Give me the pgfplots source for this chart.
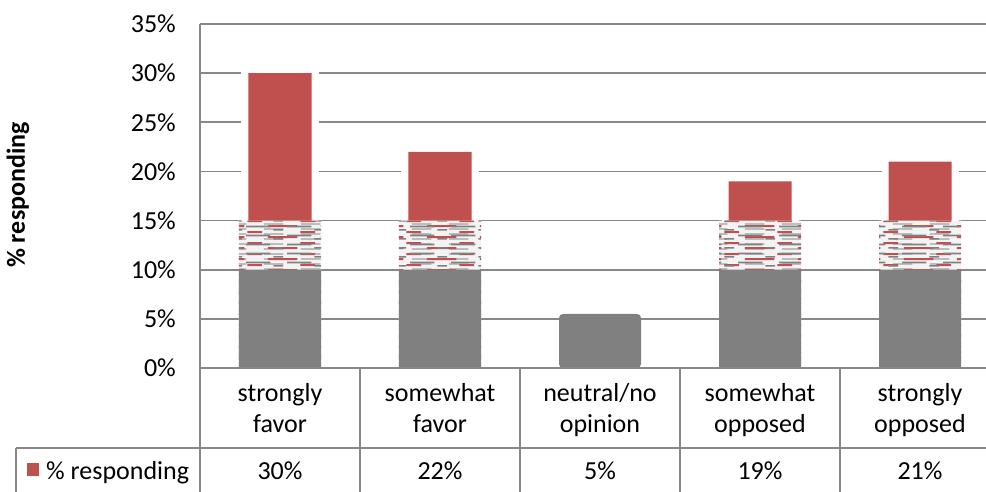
\documentclass[border=0pt]{standalone}
\usepackage{fontspec}
\setmainfont{Carlito}
\usepackage{pgfplots}
\usepackage{pgfplotstable}
\pgfplotsset{compat=1.18}
\usetikzlibrary{patterns}

\definecolor{barred}{HTML}{C0504D}
\definecolor{bargray}{HTML}{808080}
\definecolor{gridgray}{HTML}{888888}
\definecolor{bandbg}{HTML}{F3F3F3}
\definecolor{streaklight}{HTML}{BDBDBD}

\newcommand\chartfont{\fontsize{26}{31}\selectfont}

% streaky texture of the 10-15% band
\pgfdeclarepatternformonly{redstreaks}{\pgfpoint{0pt}{0pt}}{\pgfpoint{53pt}{11pt}}{\pgfpoint{53pt}{11pt}}{%
  \pgfpathrectangle{\pgfpoint{3pt}{1pt}}{\pgfpoint{30pt}{2pt}}
  \pgfpathrectangle{\pgfpoint{36pt}{6.5pt}}{\pgfpoint{15pt}{2pt}}\pgfusepath{fill}}
\pgfdeclarepatternformonly{graystreaks}{\pgfpoint{0pt}{0pt}}{\pgfpoint{41pt}{9pt}}{\pgfpoint{41pt}{9pt}}{%
  \pgfpathrectangle{\pgfpoint{0pt}{4pt}}{\pgfpoint{25pt}{2pt}}
  \pgfpathrectangle{\pgfpoint{28pt}{0.5pt}}{\pgfpoint{10pt}{1.5pt}}\pgfusepath{fill}}
\pgfdeclarepatternformonly{lightstreaks}{\pgfpoint{0pt}{0pt}}{\pgfpoint{37pt}{5pt}}{\pgfpoint{37pt}{5pt}}{%
  \pgfpathrectangle{\pgfpoint{5pt}{2.5pt}}{\pgfpoint{20pt}{2pt}}\pgfusepath{fill}}

% x: category index, pct: % responding
\pgfplotstableread{
x pct
0 30
1 22
3 19
4 21
}\toppart
\pgfplotstableread{
x lo
0 10
1 10
3 10
4 10
}\basepart
\pgfplotstableread{
x mid
0 15
1 15
3 15
4 15
}\bandpart
\pgfplotstableread{
x pct
2 5.5
}\neutralpart

\begin{document}
\begin{tikzpicture}[x=1pt,y=1pt]
\useasboundingbox (0,0) rectangle (986,491);
\begin{axis}[
    at={(200pt,123pt)}, anchor=south west,
    scale only axis, width=800pt, height=344pt,
    xmin=-0.5, xmax=4.5, ymin=0, ymax=35,
    ybar, bar shift=0pt,
    axis line style={draw=none},
    major tick length=0pt,
    xtick={0,...,4},
    xticklabels={strongly\\favor, somewhat\\favor, neutral/no\\opinion, somewhat\\opposed, strongly\\opposed},
    ytick={0,5,...,35},
    yticklabel={\pgfmathprintnumber{\tick}\%},
    /pgf/number format/assume math mode=true,
    ymajorgrids,
    grid style={gridgray, line width=1.6pt},
    tick label style={font=\chartfont},
    yticklabel style={anchor=east, inner sep=0pt, xshift=-24pt},
    xticklabel style={align=center, inner sep=0pt, yshift=-15pt},
    ylabel={\% responding},
    ylabel style={at={(rel axis cs:-0.2275,0.503)}, anchor=center, font=\chartfont\bfseries},
    clip=false,
]
\addplot[fill=barred, draw=none, bar width=63pt,
    preaction={draw=white, line width=14pt}] table[x=x, y=pct]{\toppart};
\addplot[fill=bandbg, draw=none, bar width=82pt,
    postaction={pattern=lightstreaks, pattern color=streaklight},
    postaction={pattern=redstreaks, pattern color=barred},
    postaction={pattern=graystreaks, pattern color=bargray}] table[x=x, y=mid]{\bandpart};
\addplot[fill=bargray, draw=none, bar width=82pt] table[x=x, y=lo]{\basepart};
\addplot[fill=bargray, draw=none, bar width=82pt, rounded corners=4pt] table[x=x, y=pct]{\neutralpart};

% data table under the chart
\draw[gridgray, line width=1.6pt] (rel axis cs:0,1) -- (rel axis cs:0,-0.4);
\draw[gridgray, line width=1.6pt] (rel axis cs:0,0) -- (rel axis cs:1,0);
\draw[gridgray, line width=1.6pt] (rel axis cs:-0.23,-0.2326) -- (rel axis cs:1,-0.2326);
\draw[gridgray, line width=1.6pt] (rel axis cs:-0.23,-0.2326) -- (rel axis cs:-0.23,-0.4);
\draw[gridgray, line width=1.6pt] (rel axis cs:0.2,0) -- (rel axis cs:0.2,-0.4);
\draw[gridgray, line width=1.6pt] (rel axis cs:0.4,0) -- (rel axis cs:0.4,-0.4);
\draw[gridgray, line width=1.6pt] (rel axis cs:0.6,0) -- (rel axis cs:0.6,-0.4);
\draw[gridgray, line width=1.6pt] (rel axis cs:0.8,0) -- (rel axis cs:0.8,-0.4);
\fill[barred] (rel axis cs:-0.21625,-0.2762) rectangle (rel axis cs:-0.20125,-0.314);
\node[anchor=base west, inner sep=0pt, font=\chartfont] at (rel axis cs:-0.1925,-0.3227) {\% responding};
\node[anchor=base, inner sep=0pt, font=\chartfont] at ([yshift=-111pt]axis cs:0,0) {30\%};
\node[anchor=base, inner sep=0pt, font=\chartfont] at ([yshift=-111pt]axis cs:1,0) {22\%};
\node[anchor=base, inner sep=0pt, font=\chartfont] at ([yshift=-111pt]axis cs:2,0) {5\%};
\node[anchor=base, inner sep=0pt, font=\chartfont] at ([yshift=-111pt]axis cs:3,0) {19\%};
\node[anchor=base, inner sep=0pt, font=\chartfont] at ([yshift=-111pt]axis cs:4,0) {21\%};
\end{axis}
\end{tikzpicture}
\end{document}
